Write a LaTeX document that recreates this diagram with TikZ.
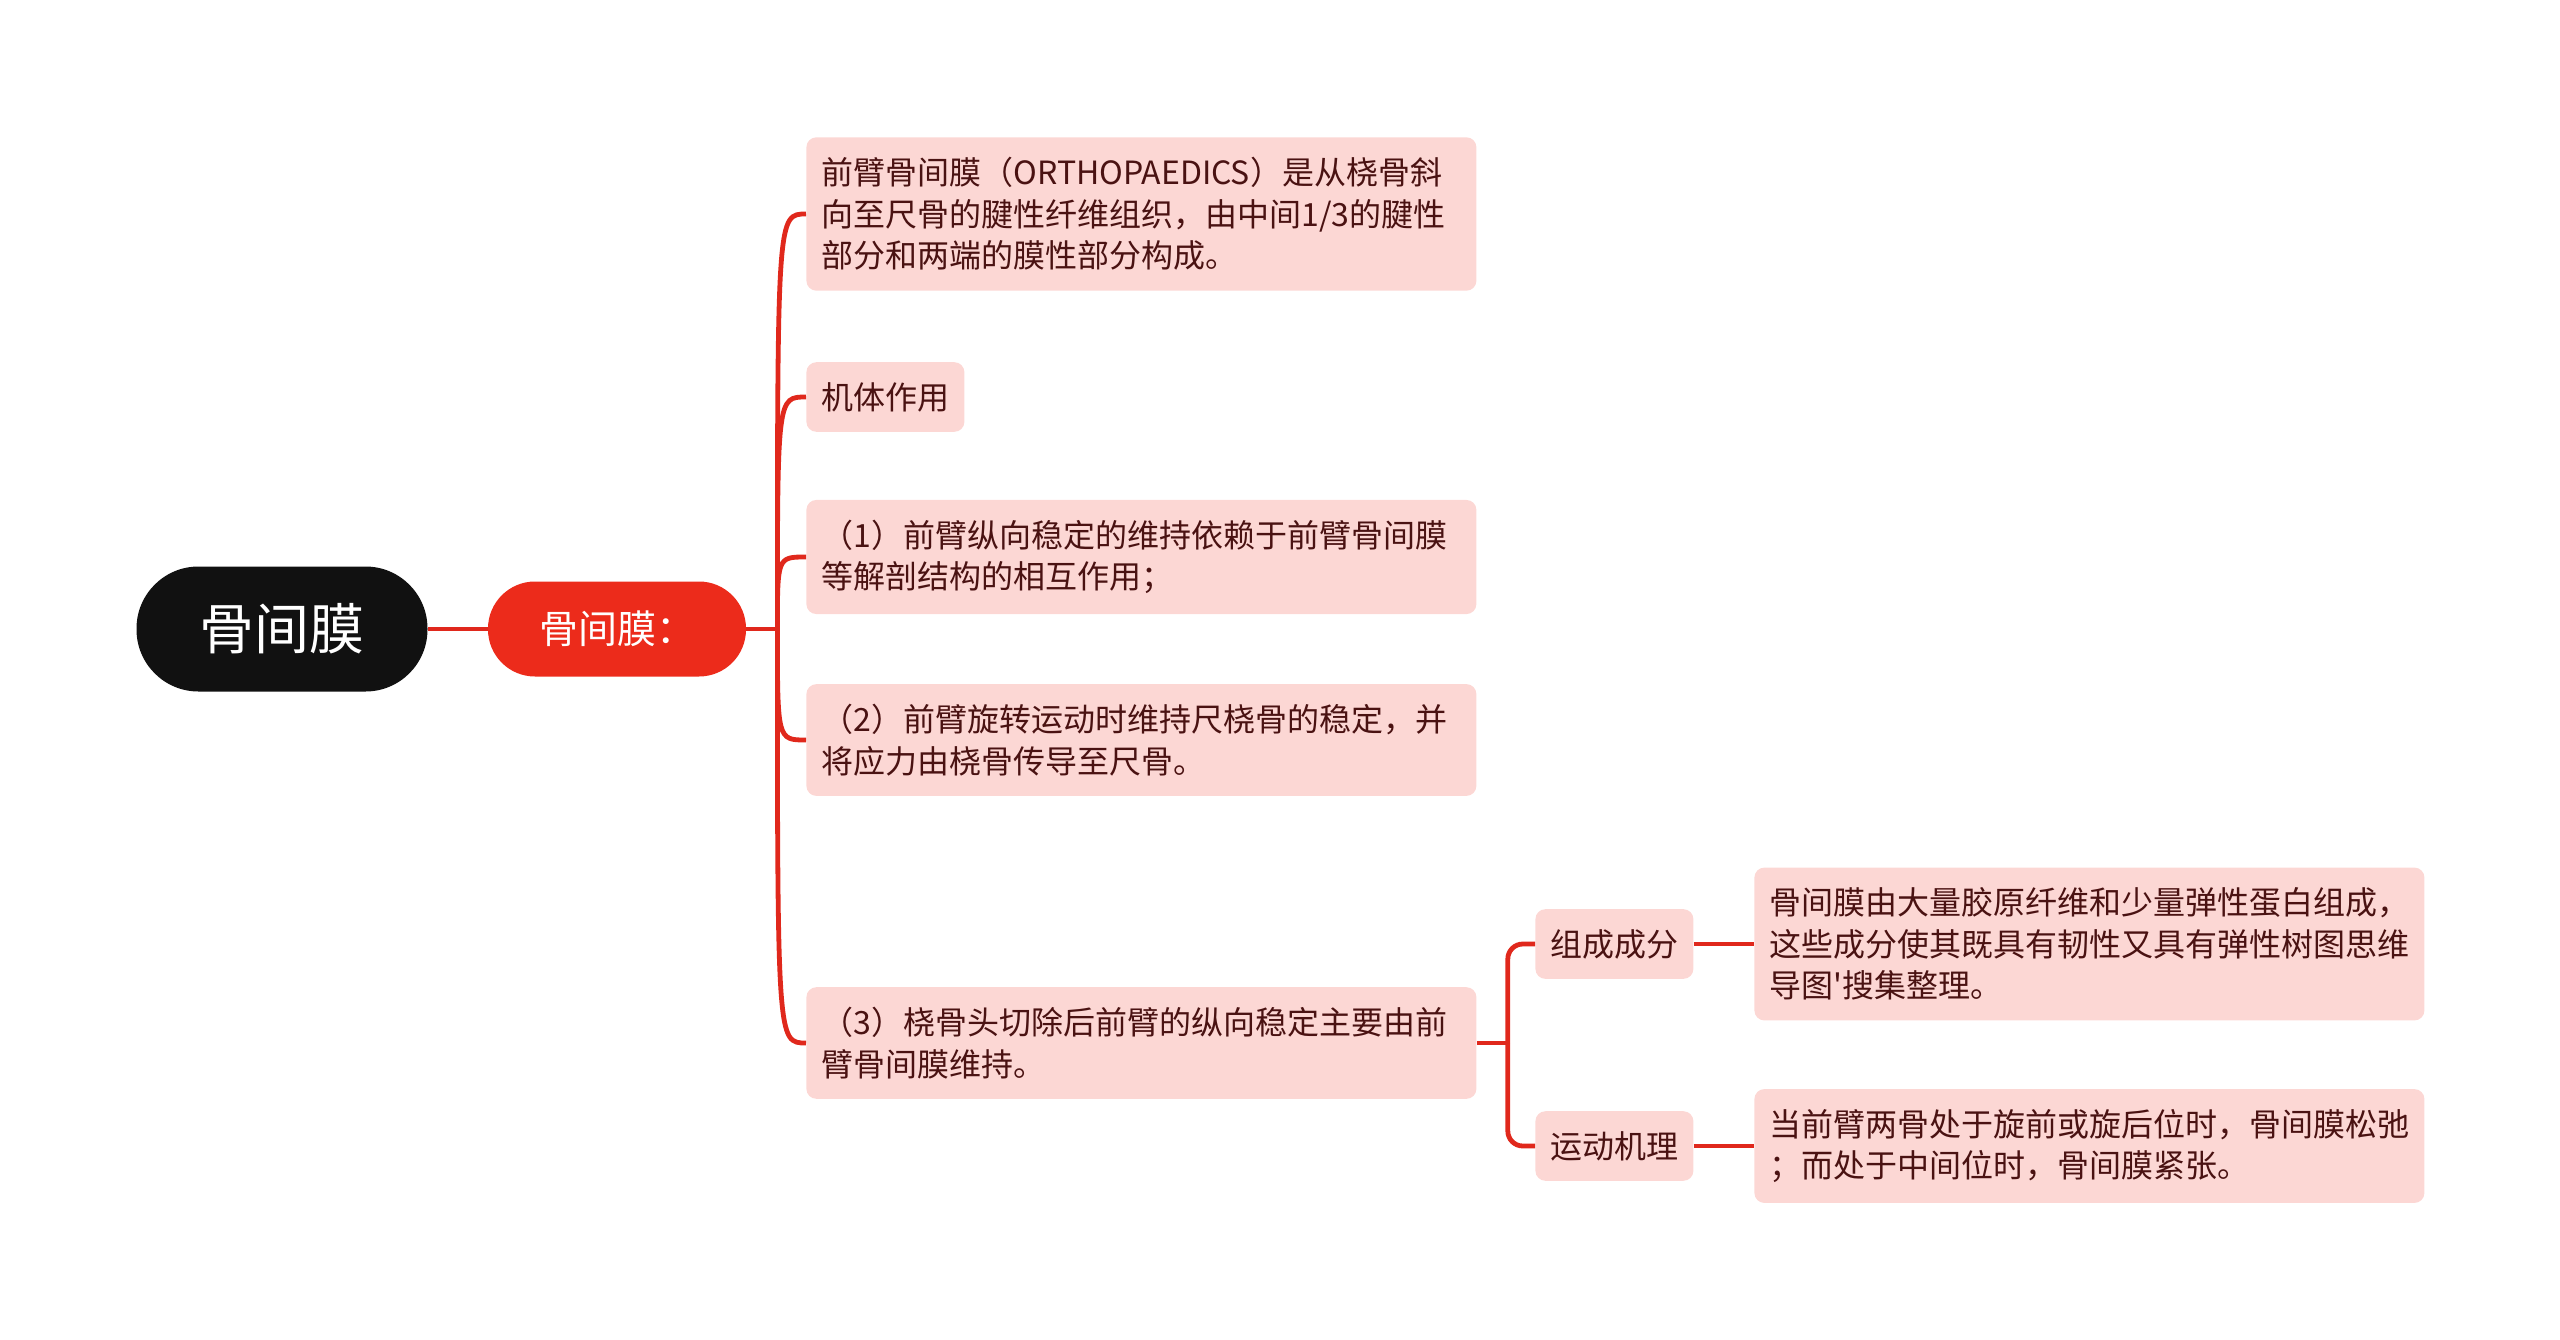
\documentclass[tikz,border=0pt]{standalone}
\usepackage{fontspec}
\setmainfont{Noto Sans CJK SC}[Ligatures=TeXOff]
\definecolor{rootblack}{HTML}{111111}
\definecolor{mainred}{HTML}{EC2B1B}
\definecolor{linkred}{HTML}{E0281C}
\definecolor{leafpink}{HTML}{FCD7D4}
\definecolor{leaftext}{HTML}{4A1212}

\begin{document}
\begin{tikzpicture}[x=0.5pt,y=-0.5pt,
  link/.style={draw=linkred,line width=2.4pt},
  leaf/.style={fill=leafpink,text=leaftext,rounded corners=5pt,anchor=west,
    inner xsep=7.5pt,inner ysep=10pt,font=\fontsize{16pt}{20.8pt}\selectfont},
  wideleaf/.style={leaf,text width=320pt,align=left}]
  % Canvas
  \useasboundingbox (0,0) rectangle (2560,1339);
  %
  % Root and first branch
  \node[fill=rootblack,text=white,rounded corners=31pt,minimum width=145.5pt,
    minimum height=62.5pt,font=\fontsize{27.5pt}{30pt}\selectfont] (root) at (282,629) {骨间膜};
  \node[fill=mainred,text=white,rounded corners=23.5pt,minimum width=129pt,
    minimum height=47.5pt,font=\fontsize{19.5pt}{22pt}\selectfont] (mid) at (617,629) {骨间膜：};
  %
  % Leaves of the first branch
  \node[wideleaf] (b1) at (806,214) {前臂骨间膜（ORTHOPAEDICS）是从桡骨斜\\向至尺骨的腱性纤维组织，由中间1/3的腱性\\部分和两端的膜性部分构成。};
  \node[leaf] (b2) at (806,397) {机体作用};
  \node[wideleaf] (b3) at (806,557) {（1）前臂纵向稳定的维持依赖于前臂骨间膜\\等解剖结构的相互作用；};
  \node[wideleaf] (b4) at (806,740) {（2）前臂旋转运动时维持尺桡骨的稳定，并\\将应力由桡骨传导至尺骨。};
  \node[wideleaf] (b5) at (806,1043) {（3）桡骨头切除后前臂的纵向稳定主要由前\\臂骨间膜维持。};
  %
  % Second level
  \node[leaf] (b6) at (1535,944) {组成成分};
  \node[leaf] (b7) at (1535,1146) {运动机理};
  \node[wideleaf] (b8) at (1754,944) {骨间膜由大量胶原纤维和少量弹性蛋白组成，\\这些成分使其既具有韧性又具有弹性树图思维\\导图'搜集整理。};
  \node[wideleaf] (b9) at (1754,1146) {当前臂两骨处于旋前或旋后位时，骨间膜松弛\\；而处于中间位时，骨间膜紧张。};
  %
  % Connectors
  \coordinate (fork) at ([xshift=15.5pt]mid.east);
  \draw[link] (root) -- (mid);
  \draw[link] (mid) -- (fork);
  \foreach \child in {b1,b2,b3,b4,b5}
    \draw[link] (fork) .. controls (fork |- \child.west) .. (\child.west);
  %
  \coordinate (fork2) at ([xshift=15.5pt]b5.east);
  \draw[link] (b5.east) -- (fork2);
  \draw[link,rounded corners=7.5pt] (fork2) |- (b6.west);
  \draw[link,rounded corners=7.5pt] (fork2) |- (b7.west);
  \draw[link] (b6) -- (b8);
  \draw[link] (b7) -- (b9);
  %
\end{tikzpicture}
\end{document}
